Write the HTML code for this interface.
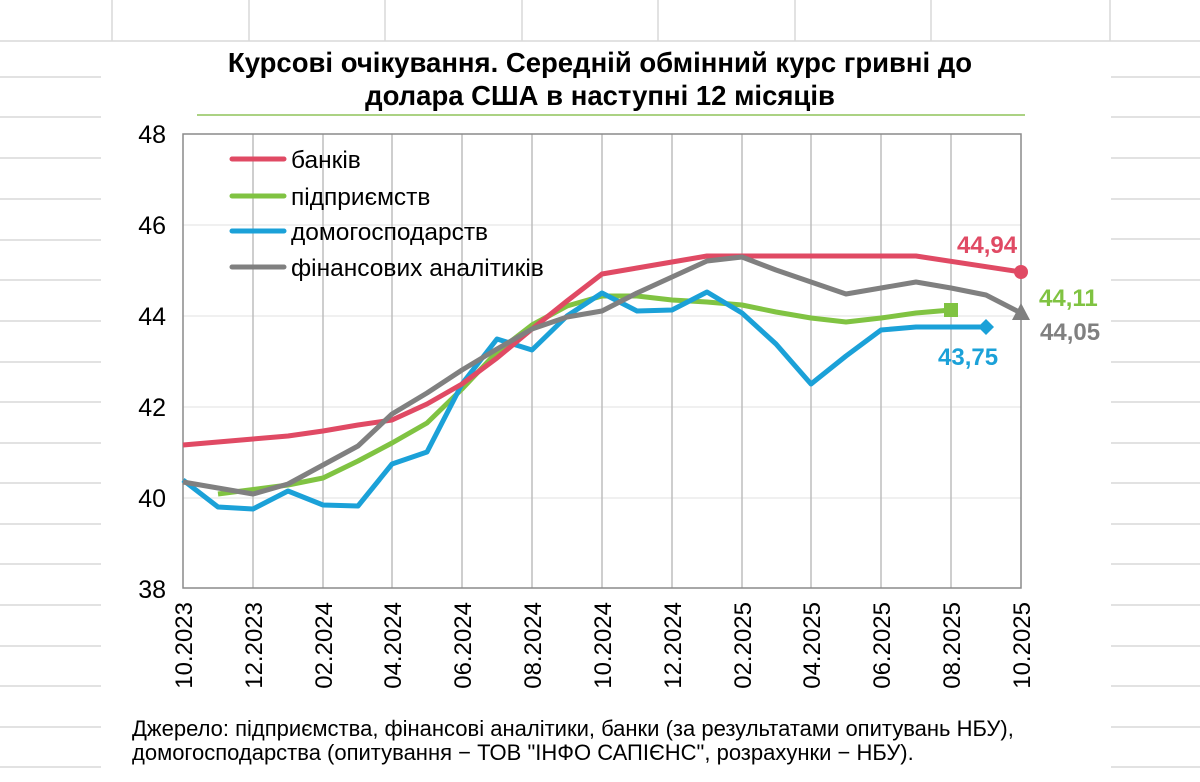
<!DOCTYPE html>
<html><head><meta charset="utf-8"><style>
body{margin:0;background:#fff}
svg{display:block;font-family:"Liberation Sans",Arial,sans-serif}
</style></head><body>
<svg width="1200" height="782" viewBox="0 0 1200 782" xmlns="http://www.w3.org/2000/svg">
<g stroke="#d9d9d9" stroke-width="1.5">
<line x1="0" y1="41" x2="1200" y2="41"/>
<line x1="112" y1="0" x2="112" y2="41"/><line x1="249" y1="0" x2="249" y2="41"/><line x1="385" y1="0" x2="385" y2="41"/><line x1="522" y1="0" x2="522" y2="41"/><line x1="658" y1="0" x2="658" y2="41"/><line x1="795" y1="0" x2="795" y2="41"/><line x1="931" y1="0" x2="931" y2="41"/><line x1="1110" y1="0" x2="1110" y2="41"/>
<line x1="0" y1="77" x2="101" y2="77"/><line x1="0" y1="117" x2="101" y2="117"/><line x1="0" y1="158" x2="101" y2="158"/><line x1="0" y1="199" x2="101" y2="199"/><line x1="0" y1="240" x2="101" y2="240"/><line x1="0" y1="280" x2="101" y2="280"/><line x1="0" y1="321" x2="101" y2="321"/><line x1="0" y1="362" x2="101" y2="362"/><line x1="0" y1="402" x2="101" y2="402"/><line x1="0" y1="443" x2="101" y2="443"/><line x1="0" y1="483" x2="101" y2="483"/><line x1="0" y1="524" x2="101" y2="524"/><line x1="0" y1="564" x2="101" y2="564"/><line x1="0" y1="605" x2="101" y2="605"/><line x1="0" y1="646" x2="101" y2="646"/><line x1="0" y1="686" x2="101" y2="686"/><line x1="0" y1="727" x2="101" y2="727"/><line x1="0" y1="767" x2="101" y2="767"/>
<line x1="1111" y1="77" x2="1200" y2="77"/><line x1="1111" y1="117" x2="1200" y2="117"/><line x1="1111" y1="158" x2="1200" y2="158"/><line x1="1111" y1="199" x2="1200" y2="199"/><line x1="1111" y1="239" x2="1200" y2="239"/><line x1="1111" y1="280" x2="1200" y2="280"/><line x1="1111" y1="321" x2="1200" y2="321"/><line x1="1111" y1="362" x2="1200" y2="362"/><line x1="1111" y1="402" x2="1200" y2="402"/><line x1="1111" y1="443" x2="1200" y2="443"/><line x1="1111" y1="483" x2="1200" y2="483"/><line x1="1111" y1="524" x2="1200" y2="524"/><line x1="1111" y1="564" x2="1200" y2="564"/><line x1="1111" y1="605" x2="1200" y2="605"/><line x1="1111" y1="646" x2="1200" y2="646"/><line x1="1111" y1="686" x2="1200" y2="686"/><line x1="1111" y1="727" x2="1200" y2="727"/><line x1="1111" y1="767" x2="1200" y2="767"/>
</g>
<text x="600" y="72" text-anchor="middle" font-size="27.5" font-weight="bold">Курсові очікування. Середній обмінний курс гривні до</text>
<text x="600" y="105" text-anchor="middle" font-size="27.5" font-weight="bold">долара США в наступні 12 місяців</text>
<line x1="197" y1="115" x2="1025" y2="115" stroke="#8fc45a" stroke-width="1.5"/>
<g stroke="#ececec" stroke-width="1.5">
<line x1="183" y1="225" x2="1021" y2="225"/><line x1="183" y1="316" x2="1021" y2="316"/><line x1="183" y1="407" x2="1021" y2="407"/><line x1="183" y1="498" x2="1021" y2="498"/>
</g>
<g stroke="#bdbdbd" stroke-width="1.5">
<line x1="253" y1="134" x2="253" y2="588"/><line x1="323" y1="134" x2="323" y2="588"/><line x1="392" y1="134" x2="392" y2="588"/><line x1="462" y1="134" x2="462" y2="588"/><line x1="532" y1="134" x2="532" y2="588"/><line x1="602" y1="134" x2="602" y2="588"/><line x1="672" y1="134" x2="672" y2="588"/><line x1="742" y1="134" x2="742" y2="588"/><line x1="811" y1="134" x2="811" y2="588"/><line x1="881" y1="134" x2="881" y2="588"/><line x1="951" y1="134" x2="951" y2="588"/>
</g>
<rect x="183" y="134" width="838" height="454" fill="none" stroke="#8a8a8a" stroke-width="1.5"/>
<g font-size="25" text-anchor="end" fill="#000">
<text x="166" y="143">48</text><text x="166" y="234">46</text><text x="166" y="325">44</text><text x="166" y="416">42</text><text x="166" y="507">40</text><text x="166" y="598">38</text>
</g>
<g font-size="24" fill="#000" text-anchor="end">
<text transform="translate(192,602) rotate(-90)">10.2023</text>
<text transform="translate(262,602) rotate(-90)">12.2023</text>
<text transform="translate(332,602) rotate(-90)">02.2024</text>
<text transform="translate(401,602) rotate(-90)">04.2024</text>
<text transform="translate(471,602) rotate(-90)">06.2024</text>
<text transform="translate(541,602) rotate(-90)">08.2024</text>
<text transform="translate(611,602) rotate(-90)">10.2024</text>
<text transform="translate(681,602) rotate(-90)">12.2024</text>
<text transform="translate(751,602) rotate(-90)">02.2025</text>
<text transform="translate(820,602) rotate(-90)">04.2025</text>
<text transform="translate(890,602) rotate(-90)">06.2025</text>
<text transform="translate(960,602) rotate(-90)">08.2025</text>
<text transform="translate(1030,602) rotate(-90)">10.2025</text>
</g>
<g fill="none" stroke-width="5" stroke-linejoin="round">
<polyline stroke="#80c342" points="218,494 288,485 323,478 358,461 392,443 427,423 462,389 497,352 532,325 567,306 602,296 637,296 672,300 707,302 742,305 776,312 811,318 846,322 881,318 916,313 951,310"/>
<polyline stroke="#1ba1d8" points="183,480 218,507 253,509 288,491 323,505 358,506 392,464 427,452 462,384 497,339 532,350 567,316 602,293 637,311 672,310 707,292 742,313 776,344 811,384 846,356 881,330 916,327 951,327 986,327"/>
<polyline stroke="#e04a64" points="183,445 218,442 253,439 288,436 323,431 358,425 392,420 427,404 462,384 497,358 532,329 567,301 602,274 637,268 672,262 707,256 742,256 776,256 811,256 846,256 881,256 916,256 1021,272"/>
<polyline stroke="#808080" points="183,482 218,488 253,494 288,484 323,465 358,446 392,414 427,393 462,370 497,349 532,329 567,317 602,311 637,293 672,277 707,261 742,257 776,270 811,282 846,294 881,288 916,282 951,288 986,295 1021,313"/>
</g>
<circle cx="1021" cy="272" r="7" fill="#e04a64"/>
<rect x="944" y="303" width="14" height="14" fill="#80c342"/>
<polygon points="986,319 994,327 986,335 978,327" fill="#1ba1d8"/>
<polygon points="1021,303 1030,320 1012,320" fill="#808080"/>
<g font-size="24" font-weight="bold">
<text x="957" y="253" fill="#e04a64">44,94</text>
<text x="1039" y="306" fill="#80c342">44,11</text>
<text x="1040" y="340" fill="#808080">44,05</text>
<text x="938" y="365" fill="#1ba1d8">43,75</text>
</g>
<g stroke-width="5" stroke-linecap="round">
<line x1="232" y1="159" x2="284" y2="159" stroke="#e04a64"/>
<line x1="232" y1="196" x2="284" y2="196" stroke="#80c342"/>
<line x1="232" y1="231" x2="284" y2="231" stroke="#1ba1d8"/>
<line x1="232" y1="267" x2="284" y2="267" stroke="#808080"/>
</g>
<g font-size="24.5" fill="#000">
<text x="291" y="168">банків</text>
<text x="291" y="205">підприємств</text>
<text x="291" y="240">домогосподарств</text>
<text x="291" y="276">фінансових аналітиків</text>
</g>
<g font-size="22" fill="#000">
<text x="132" y="736">Джерело: підприємства, фінансові аналітики, банки (за результатами опитувань НБУ),</text>
<text x="132" y="760">домогосподарства (опитування − ТОВ "ІНФО САПІЄНС", розрахунки − НБУ).</text>
</g>
</svg>
</body></html>
